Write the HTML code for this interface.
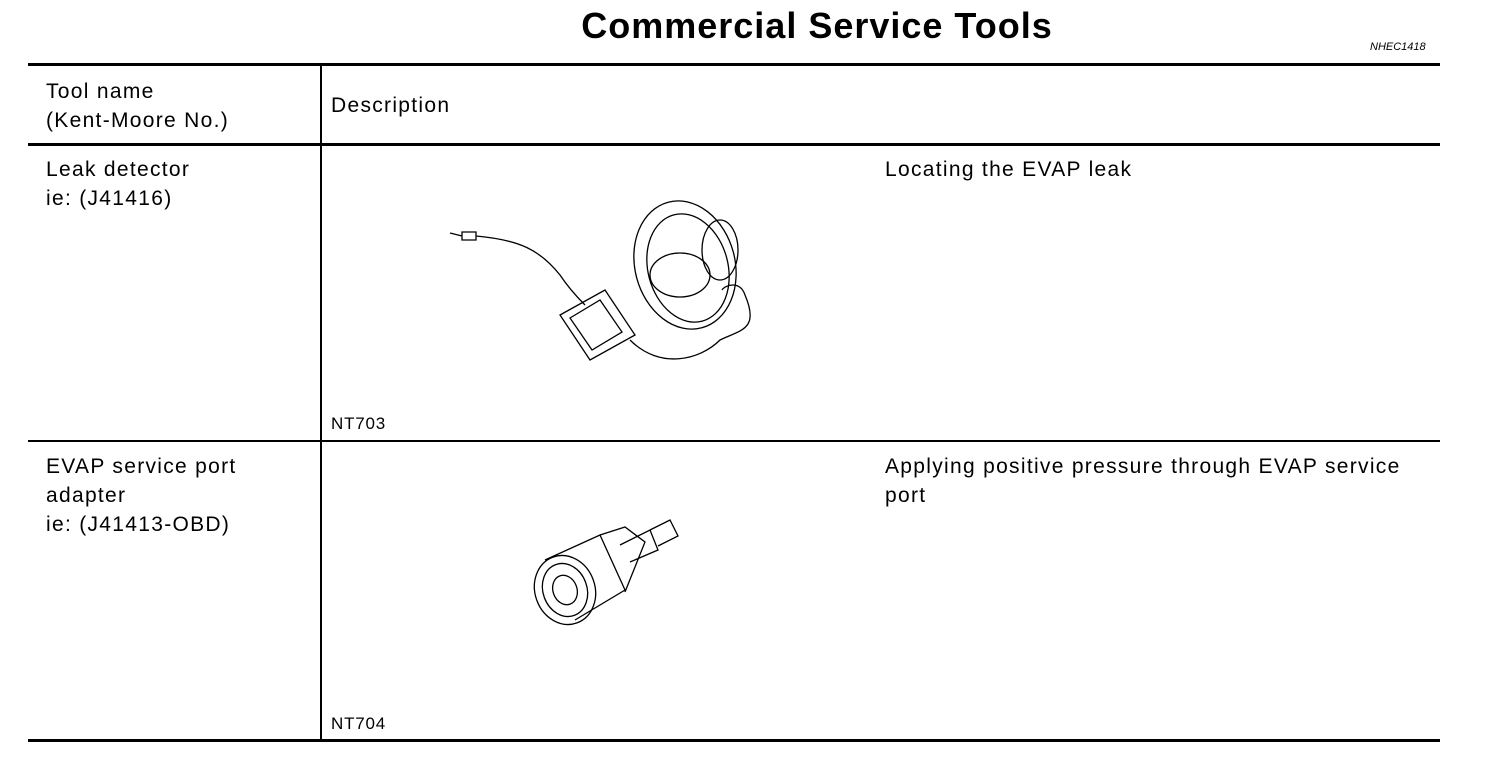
<!DOCTYPE html>
<html><head><meta charset="utf-8"><style>
body{margin:0;width:1504px;height:776px;background:#fff;position:relative;font-family:"Liberation Sans",Arial,sans-serif;color:#000;overflow:hidden}
.t{position:absolute;font-size:21px;letter-spacing:1.3px;line-height:29px;white-space:nowrap}
.h{position:absolute;background:#000}
</style></head><body>
<div class="t" style="left:0;width:1634px;text-align:center;top:4px;font-size:36px;letter-spacing:1px;font-weight:bold;line-height:44px">Commercial Service Tools</div>
<div class="t" style="left:1370px;top:40px;font-size:11px;letter-spacing:0;font-style:italic;line-height:14px">NHEC1418</div>
<div class="h" style="left:28px;top:63px;width:1412px;height:3px"></div>
<div class="h" style="left:28px;top:143px;width:1412px;height:3px"></div>
<div class="h" style="left:28px;top:440px;width:1412px;height:2px"></div>
<div class="h" style="left:28px;top:739px;width:1412px;height:3px"></div>
<div class="h" style="left:320px;top:65px;width:2px;height:676px"></div>
<div class="t" style="left:46px;top:77px">Tool name<br>(Kent-Moore No.)</div>
<div class="t" style="left:331px;top:91px">Description</div>
<div class="t" style="left:46px;top:155px">Leak detector<br>ie: (J41416)</div>
<div class="t" style="left:885px;top:155px">Locating the EVAP leak</div>
<div class="t" style="left:331px;top:414px;font-size:17px;letter-spacing:0.8px;line-height:20px">NT703</div>
<div class="t" style="left:46px;top:452px">EVAP service port<br>adapter<br>ie: (J41413-OBD)</div>
<div class="t" style="left:885px;top:452px">Applying positive pressure through EVAP service<br>port</div>
<div class="t" style="left:331px;top:714px;font-size:17px;letter-spacing:0.8px;line-height:20px">NT704</div>
<svg style="position:absolute;left:0;top:0" width="1504" height="776" fill="none" stroke="#000" stroke-width="1.3">
<path d="M450 233 l12 3 M462 232 h14 v8 h-14z M476 236 C520 240,540 250,560 275 C570 290,580 300,585 305"/>
<path d="M560 315 l45 -25 l30 45 l-45 25z M570 318 l30 -18 l22 32 l-30 18z"/>
<path d="M630 340 C660 370,700 360,720 340 C740 330,760 330,745 295 C740 280,725 285,722 290"/>
<ellipse cx="685" cy="265" rx="50" ry="65" transform="rotate(-15 685 265)"/>
<ellipse cx="688" cy="268" rx="40" ry="55" transform="rotate(-15 688 268)"/>
<ellipse cx="680" cy="275" rx="30" ry="22"/>
<ellipse cx="720" cy="250" rx="18" ry="30"/>
<ellipse cx="565" cy="590" rx="30" ry="35" transform="rotate(-20 565 590)"/>
<ellipse cx="565" cy="590" rx="22" ry="27" transform="rotate(-20 565 590)"/>
<ellipse cx="565" cy="590" rx="12" ry="15" transform="rotate(-20 565 590)"/>
<path d="M545 560 L600 535 L625 590 L575 620 M600 535 l25 -8 l20 15 l-20 50 M620 545 l30 -15 l8 20 l-28 12 M650 530 l20 -10 l8 16 l-20 10"/>
</svg>
</body></html>
